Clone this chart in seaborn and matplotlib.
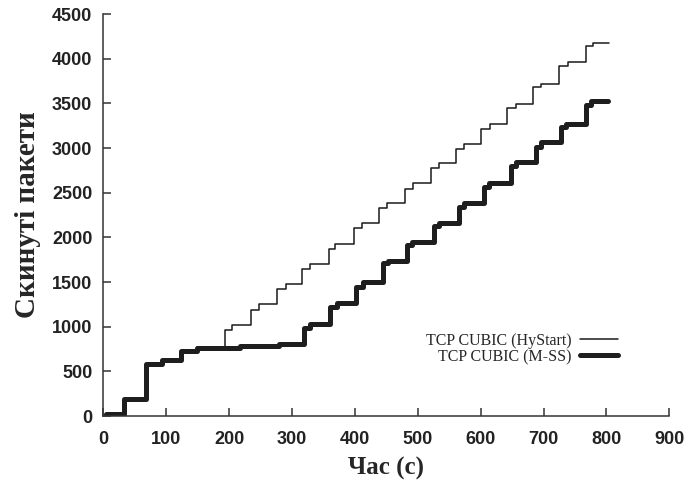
import matplotlib
matplotlib.use("Agg")
import matplotlib.pyplot as plt
import seaborn as sns
import pandas as pd
from matplotlib.lines import Line2D

# Data: (time s, dropped packets), step-post
hystart_t = [4, 33, 67, 93, 123, 149, 193, 205, 234, 247, 276, 290, 316, 329, 358, 368,
             398, 411, 439, 451, 479, 492, 521, 533, 561, 573, 601, 615, 642, 656, 683, 696,
             725, 739, 767, 779, 804]
hystart_v = [25, 195, 585, 630, 725, 770, 965, 1015, 1185, 1250, 1420, 1475, 1645, 1700, 1875, 1930,
             2105, 2160, 2330, 2380, 2540, 2605, 2775, 2835, 2995, 3050, 3218, 3274, 3445, 3497, 3682, 3718,
             3922, 3960, 4138, 4182, 4182]

mss_t = [4, 33, 67, 93, 123, 149, 218, 279, 319, 329, 361, 372, 402, 413, 444, 452,
         483, 491, 526, 533, 566, 573, 606, 614, 649, 656, 688, 696, 728, 735, 768, 775, 803]
mss_v = [25, 195, 585, 630, 725, 762, 785, 805, 990, 1035, 1220, 1265, 1445, 1500, 1715, 1740,
         1920, 1945, 2125, 2165, 2345, 2385, 2570, 2610, 2795, 2850, 3015, 3070, 3240, 3275, 3480, 3525, 3525]

series_names = ["TCP CUBIC (HyStart)", "TCP CUBIC (M-SS)"]
x_ticks = [0, 100, 200, 300, 400, 500, 600, 700, 800, 900]
y_ticks = [0, 500, 1000, 1500, 2000, 2500, 3000, 3500, 4000, 4500]

df = pd.concat([
    pd.DataFrame({"t": hystart_t, "v": hystart_v, "s": series_names[0]}),
    pd.DataFrame({"t": mss_t, "v": mss_v, "s": series_names[1]}),
])

sns.set_theme(style="white")
plt.rcParams["font.family"] = ["Liberation Sans", "DejaVu Sans"]

fig = plt.figure(figsize=(6.85, 4.88), dpi=100)
ax = fig.add_axes([0.151, 0.1475, 0.826, 0.8235])

sns.lineplot(data=df, x="t", y="v", hue="s", size="s",
             sizes={series_names[0]: 1.1, series_names[1]: 3.6},
             palette={series_names[0]: "#1a1a1a", series_names[1]: "#1e1e1e"},
             drawstyle="steps-post", estimator=None, sort=False, ax=ax, legend=False)

ax.set_xlim(0, 900)
ax.set_ylim(0, 4500)
ax.set_xticks(x_ticks)
ax.set_yticks(y_ticks)
ax.set_xticklabels([str(v) for v in x_ticks], fontweight="bold", fontsize=13, color="#222")
ax.set_yticklabels([str(v) for v in y_ticks], fontweight="bold", fontsize=13, color="#222")
ax.tick_params(axis="x", direction="in", length=6, width=1.1, color="#333", pad=11, bottom=True)
ax.tick_params(axis="y", direction="in", length=6, width=1.1, color="#333", pad=8, left=True)

for side in ["top", "right"]:
    ax.spines[side].set_visible(False)
for side in ["left", "bottom"]:
    ax.spines[side].set_color("#333")
    ax.spines[side].set_linewidth(1.1)

ax.set_xlabel("Час (с)", fontfamily="Liberation Serif", fontweight="bold", fontsize=18, labelpad=6)
ax.set_ylabel("Скинуті пакети", fontfamily="Liberation Serif", fontweight="bold", fontsize=21, labelpad=8)

handles = [Line2D([], [], color="#1a1a1a", lw=1.1), Line2D([], [], color="#1e1e1e", lw=3.6)]
ax.legend(handles, series_names, loc="center right", bbox_to_anchor=(0.935, 0.167),
          frameon=False, markerfirst=False, handlelength=2.4, labelspacing=0.0,
          handletextpad=0.5, prop={"family": "Liberation Serif", "size": 11.5})

fig.savefig("out.png", dpi=100)
